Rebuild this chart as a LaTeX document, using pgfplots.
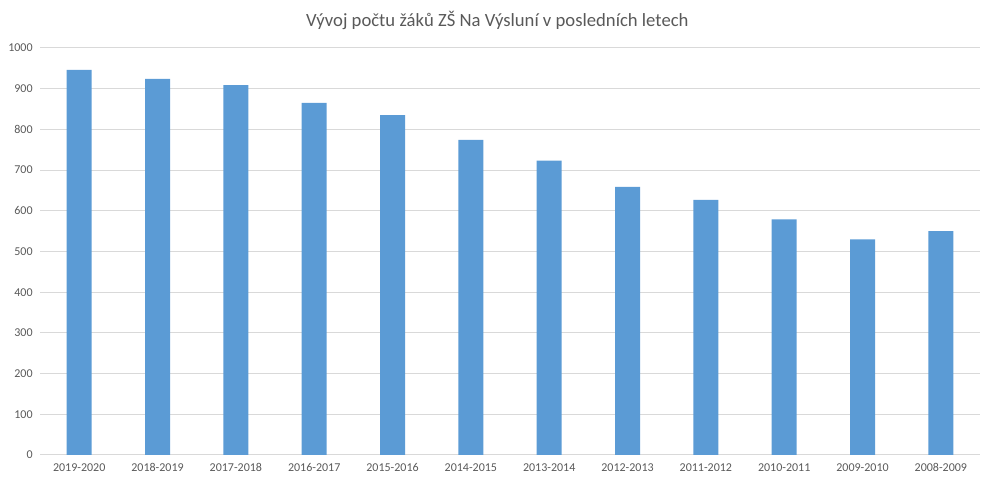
\documentclass[border=0pt]{standalone}
\usepackage{pgfplots}
\pgfplotsset{compat=1.18}
\usepackage{fontspec}
\setmainfont{Carlito}
\definecolor{barblue}{HTML}{5B9BD5}
\definecolor{gridgray}{HTML}{D9D9D9}
\definecolor{labelgray}{HTML}{595959}
\begin{document}
\begin{tikzpicture}
\useasboundingbox (-30pt,-22.5pt) rectangle (716.25pt,341.25pt);
\begin{axis}[
    at={(0,0)}, anchor=south west,
    scale only axis,
    width=705pt, height=305.25pt,
    xmin=-0.5, xmax=11.5,
    ymin=0, ymax=1000,
    ytick={0,100,...,1000},
    xtick=data,
    xticklabels={2019-2020,2018-2019,2017-2018,2016-2017,2015-2016,2014-2015,2013-2014,2012-2013,2011-2012,2010-2011,2009-2010,2008-2009},
    ybar, bar width=18.75pt,
    axis line style={draw=none},
    ymajorgrids, grid style={gridgray, line width=0.75pt},
    major tick length=0pt,
    tick label style={font=\fontsize{9}{10}\selectfont, text=labelgray},
    /pgf/number format/assume math mode=true,
    /pgf/number format/1000 sep={},
    xticklabel style={yshift=-3pt},
    yticklabel style={xshift=-2pt},
    ytick pos=left, xtick pos=bottom,
]
\addplot[fill=barblue, draw=none] coordinates {
(0,946) (1,924) (2,909) (3,865) (4,835) (5,774)
(6,723) (7,659) (8,627) (9,579) (10,530) (11,550)
};
\end{axis}
\node[font=\fontsize{14}{16}\selectfont, text=labelgray] at (343pt,326pt) {Vývoj počtu žáků ZŠ Na Výsluní v posledních letech};
\end{tikzpicture}
\end{document}
